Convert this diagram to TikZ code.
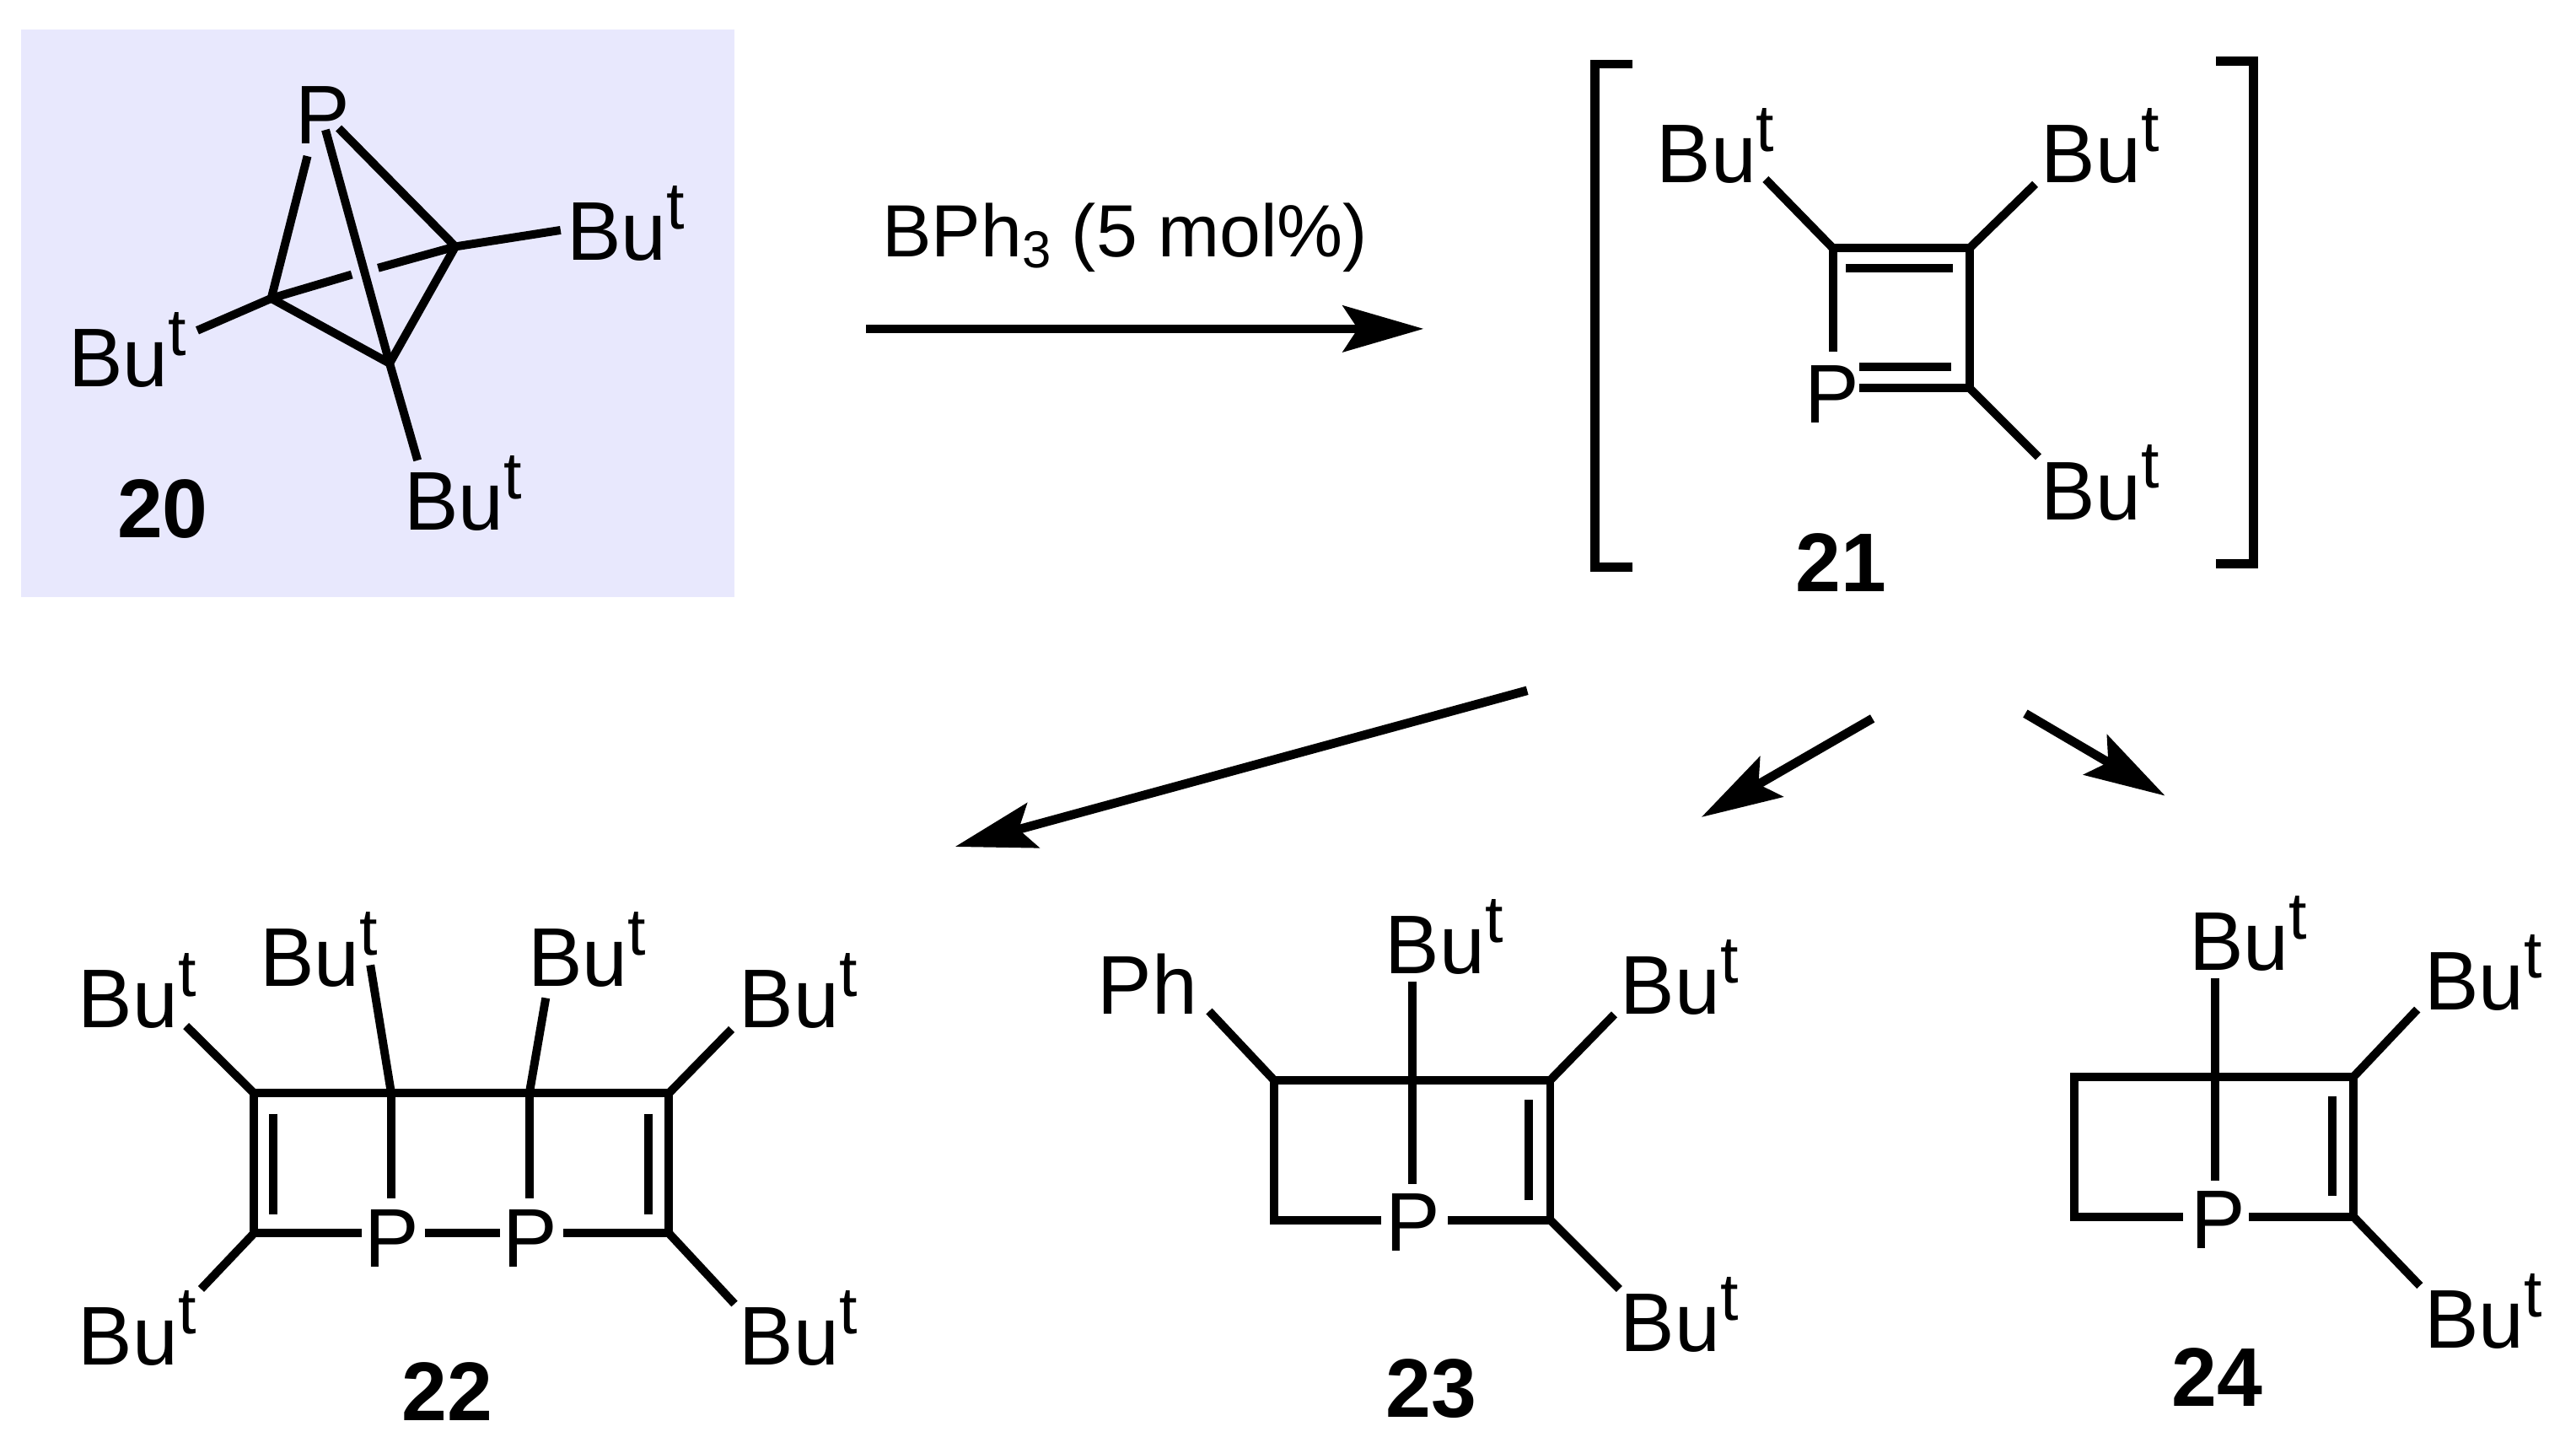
\documentclass[tikz,border=0pt]{standalone}
\usepackage{fontspec}
\setmainfont[FakeStretch=0.98]{Liberation Sans}
\newfontfamily\reagentfont[FakeStretch=1.0]{Liberation Sans}
\usepackage{tikz}
\usetikzlibrary{arrows.meta}
\definecolor{boxfill}{RGB}{232,232,253}
\newcommand{\But}{Bu\raisebox{0.19cm}{\fontsize{11.5pt}{11.5pt}\selectfont t}}
\tikzset{
	atom/.style={inner sep=0pt, anchor=base west, xshift=-0.03cm, font=\fontsize{14.4pt}{14.4pt}\selectfont},
	tag/.style={inner sep=0pt, anchor=base, font=\fontsize{14.4pt}{14.4pt}\selectfont\bfseries},
	bond/.style={line width=1.45pt, line cap=butt},
	rxn/.style={line width=1.55pt, -{Stealth[length=4.9mm, width=2.8mm, inset=0.9mm]}},
	brack/.style={line width=1.6pt, line join=miter}
}
\begin{document}
\begin{tikzpicture}[x=0.01cm, y=-0.01cm]
	\useasboundingbox (0,0) rectangle (1567,880.6);
	\fill[boxfill] (13,18) rectangle (447,363);

	% nodes - for 20 %
	\node[atom] (p20) at (182,87.6) {P};
	\node[atom] (r20a) at (347,158.5) {\But};
	\node[atom] (l20a) at (44,235) {\But};
	\node[atom] (b20a) at (248,322.6) {\But};
	\node[tag] (n20) at (99,327) {20};
	\coordinate (a20) at (165,181.5);
	\coordinate (c20) at (277,150);
	\coordinate (d20) at (237,221);

	% edges %
	\draw[bond] (187,95) coordinate (p20l) -- (a20);
	\draw[bond] (198,79) coordinate (p20m) -- (d20);
	\draw[bond] (206,78) coordinate (p20r) -- (c20);
	\draw[bond] (a20) -- (214,167) coordinate (g20l);
	\draw[bond] (230,163) coordinate (g20r) -- (c20);
	\draw[bond] (a20) -- (d20) -- (c20);
	\draw[bond] (c20) -- (341,140) coordinate (e20r);
	\draw[bond] (a20) -- (120,201) coordinate (e20l);
	\draw[bond] (d20) -- (254,280) coordinate (e20b);

	% reagent arrow %
	\node[inner sep=0pt, anchor=base west, font=\fontsize{12.8pt}{12.8pt}\selectfont\reagentfont] (bph) at (536,156)
		{BPh\raisebox{-0.07cm}{\fontsize{9pt}{9pt}\selectfont 3} (5 mol\%)};
	\coordinate (s20) at (527,200);
	\coordinate (t21) at (866,200);
	\draw[rxn] (s20) -- (t21);

	% nodes - for 21 %
	\coordinate (a21) at (1115,151);
	\coordinate (b21) at (1198,151);
	\coordinate (c21) at (1198,236);
	\node[atom] (p21) at (1100,257) {P};
	\node[atom] (tl21) at (1010,111) {\But};
	\node[atom] (tr21) at (1244,111) {\But};
	\node[atom] (br21) at (1244,316) {\But};
	\node[tag] (n21) at (1120,360) {21};

	% edges %
	\draw[bond] (1115,214) coordinate (q21) -- (a21) -- (b21) -- (c21) -- (1131,236) coordinate (r21);
	\draw[bond] (1123,163) coordinate (i21a) -- (1188,163) coordinate (i21b);
	\draw[bond] (1131,223) coordinate (i21c) -- (1187,223) coordinate (i21d);
	\draw[bond] (a21) -- (1074,109) coordinate (e21a);
	\draw[bond] (b21) -- (1238,112) coordinate (e21b);
	\draw[bond] (c21) -- (1240,278) coordinate (e21c);

	% brackets %
	\draw[brack] (993,39) coordinate (bl1) -| (970,345) coordinate (bl2) -- (993,345) coordinate (bl3);
	\draw[brack] (1348,37) coordinate (br1) -| (1371,343) coordinate (br2) -- (1348,343) coordinate (br3);

	% product arrows %
	\coordinate (s22) at (929,420);
	\coordinate (t22) at (581,515);
	\coordinate (s23) at (1139,437);
	\coordinate (t23) at (1035,497);
	\coordinate (s24) at (1232,434);
	\coordinate (t24) at (1317,484);
	\draw[rxn] (s22) -- (t22);
	\draw[rxn] (s23) -- (t23);
	\draw[rxn] (s24) -- (t24);

	% nodes - for 22 %
	\coordinate (a22) at (154.6,665);
	\coordinate (b22) at (238,665);
	\coordinate (c22) at (322,665);
	\coordinate (d22) at (406.8,665);
	\coordinate (e22) at (154.6,750);
	\coordinate (f22) at (406.8,750);
	\node[atom] (p22a) at (224,770.6) {P};
	\node[atom] (p22b) at (308,770.6) {P};
	\node[atom] (tl22) at (50,625) {\But};
	\node[atom] (m22a) at (160.4,600) {\But};
	\node[atom] (m22b) at (323.5,600) {\But};
	\node[atom] (tr22) at (452,625) {\But};
	\node[atom] (bl22) at (50,830) {\But};
	\node[atom] (br22) at (452,830) {\But};
	\node[tag] (n22) at (272,864) {22};

	% edges %
	\draw[bond] (a22) -- (d22) -- (f22) -- (342.5,750) coordinate (x22);
	\draw[bond] (a22) -- (e22) -- (220,750) coordinate (y22);
	\draw[bond] (258.3,750) coordinate (z22a) -- (304,750) coordinate (z22b);
	\draw[bond] (b22) -- (238,729) coordinate (v22a);
	\draw[bond] (c22) -- (322,729) coordinate (v22b);
	\draw[bond] (b22) -- (225.3,587) coordinate (u22a);
	\draw[bond] (c22) -- (332,607) coordinate (u22b);
	\draw[bond] (166.2,677.4) coordinate (i22a) -- (166.2,738.5) coordinate (i22b);
	\draw[bond] (394.2,677.4) coordinate (i22c) -- (394.2,738.5) coordinate (i22d);
	\draw[bond] (a22) -- (113.2,624) coordinate (e22a);
	\draw[bond] (d22) -- (445,626) coordinate (e22b);
	\draw[bond] (e22) -- (122.3,784) coordinate (e22c);
	\draw[bond] (f22) -- (446.8,793) coordinate (e22d);

	% nodes - for 23 %
	\coordinate (a23) at (775,657);
	\coordinate (b23) at (859,657);
	\coordinate (c23) at (943,657);
	\coordinate (d23) at (775,742);
	\coordinate (f23) at (943,742);
	\node[atom] (p23) at (845.5,761) {P};
	\node[atom] (ph23) at (670,617) {Ph};
	\node[atom] (m23) at (845,592) {\But};
	\node[atom] (tr23) at (988,617) {\But};
	\node[atom] (br23) at (988,822) {\But};
	\node[tag] (n23) at (870.5,862) {23};

	% edges %
	\draw[bond] (840,742) coordinate (x23) -- (d23) -- (a23) -- (c23) -- (f23) -- (880.5,742) coordinate (y23);
	\draw[bond] (859,597) coordinate (v23a) -- (859,720) coordinate (v23b);
	\draw[bond] (930,669) coordinate (i23a) -- (930,730) coordinate (i23b);
	\draw[bond] (a23) -- (735.5,615) coordinate (e23a);
	\draw[bond] (c23) -- (982,617) coordinate (e23b);
	\draw[bond] (f23) -- (985,784) coordinate (e23c);

	% nodes - for 24 %
	\coordinate (a24) at (1262,655);
	\coordinate (b24) at (1347.6,655);
	\coordinate (c24) at (1431.6,655);
	\coordinate (d24) at (1262,740);
	\coordinate (f24) at (1431.6,740);
	\node[atom] (p24) at (1335,759.5) {P};
	\node[atom] (m24) at (1334,590) {\But};
	\node[atom] (tr24) at (1477,614) {\But};
	\node[atom] (br24) at (1477,820) {\But};
	\node[tag] (n24) at (1348.5,855.5) {24};

	% edges %
	\draw[bond] (1328,740) coordinate (x24) -- (d24) -- (a24) -- (c24) -- (f24) -- (1368,740) coordinate (y24);
	\draw[bond] (1347.6,595) coordinate (v24a) -- (1347.6,718) coordinate (v24b);
	\draw[bond] (1418.5,667) coordinate (i24a) -- (1418.5,727.5) coordinate (i24b);
	\draw[bond] (c24) -- (1470.4,614) coordinate (e24a);
	\draw[bond] (f24) -- (1472,782) coordinate (e24b);

\end{tikzpicture}
\end{document}
